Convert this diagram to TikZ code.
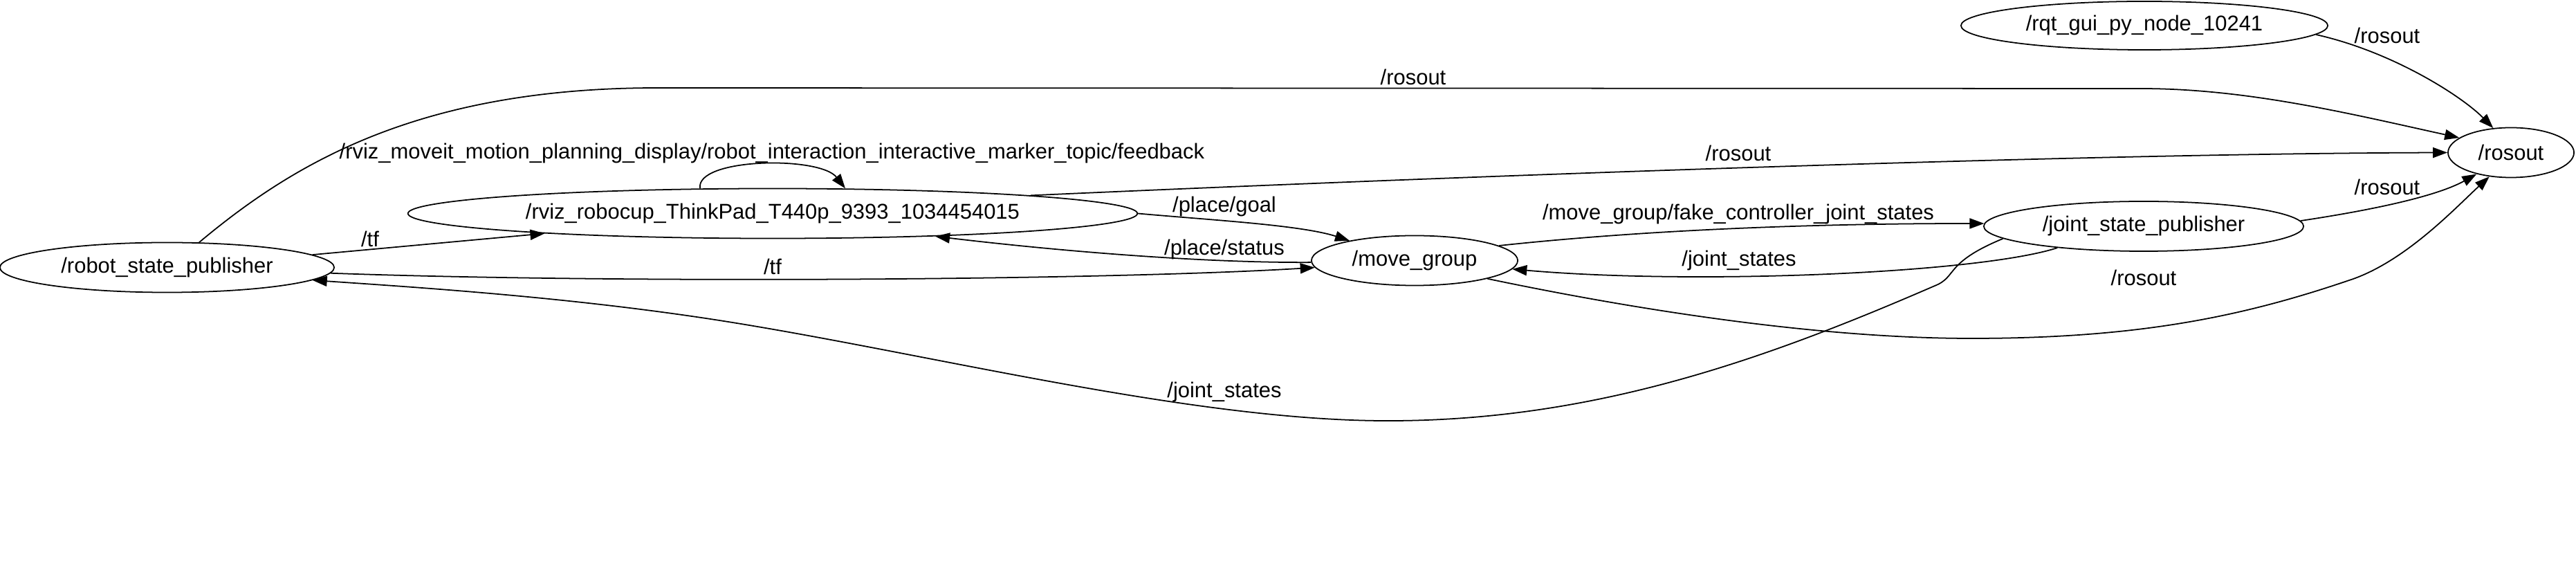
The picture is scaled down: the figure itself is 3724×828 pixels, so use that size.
\documentclass[tikz,border=0pt]{standalone}
\usepackage{fontspec}
\setmainfont{Liberation Sans}
\usetikzlibrary{shapes.geometric,arrows.meta}

\begin{document}
\begin{tikzpicture}
  [x=0.01cm,y=-0.01cm,line width=0.5pt,
   every node/.style={font=\fontsize{8.8}{10}\selectfont},
   rosnode/.style={ellipse,draw,inner sep=0pt,minimum height=0.72cm},
   topic/.style={inner sep=0pt},
   pub/.style={-{Triangle[length=0.21cm,width=0.15cm]}}]

    \useasboundingbox (0,0) rectangle (3724,828);

    % ros nodes
    \node[rosnode,minimum width=4.83cm]  (rsp)    at (241.5,386.5) {/robot\_state\_publisher};
    \node[rosnode,minimum width=10.54cm] (rviz)   at (1117,308.5)  {/rviz\_robocup\_ThinkPad\_T440p\_9393\_1034454015};
    \node[rosnode,minimum width=2.98cm]  (mg)     at (2045,376.5)  {/move\_group};
    \node[rosnode,minimum width=4.62cm]  (jsp)    at (3099,327)    {/joint\_state\_publisher};
    \node[rosnode,minimum width=1.82cm]  (rosout) at (3630,220.5)  {/rosout};
    \node[rosnode,minimum width=5.30cm,minimum height=0.70cm] (rqt) at (3100,37) {/rqt\_gui\_py\_node\_10241};

    % topics
    \draw[pub] (rqt.-3.5) .. controls (3460,75) and (3560,140) .. (rosout.126.2);
    \node[topic] (t1) at (3451,51) {/rosout};

    \draw[pub] (rsp.38.1) .. controls (420,240) and (600,127) .. (950,127) -- (3095,128)
      .. controls (3250,128) and (3400,165) .. (rosout.164.3);
    \node[topic] (t2) at (2043,111) {/rosout};

    \draw[pub] (rviz.4.4) .. controls (2100,255) and (3000,222) .. (rosout.180.9);
    \node[topic] (t3) at (2513,221) {/rosout};

    \draw[pub] (rsp.5.1) -- (rviz.185);
    \node[topic] (t4) at (535,345) {/tf};

    \draw[pub] (rviz.161.6) .. controls (1005,228) and (1185,225) .. (rviz.19);
    \node[topic] (t5) at (1116,222) {/rviz\_moveit\_motion\_planning\_display/robot\_interaction\_interactive\_marker\_topic/feedback};

    \draw[pub] (rviz.0) .. controls (1750,318) and (1880,325) .. (mg.163.6);
    \node[topic] (t6) at (1770,299) {/place/goal};

    \draw[pub] (mg.181.4) .. controls (1750,380) and (1550,365) .. (rviz.-8.3);
    \node[topic] (t7) at (1770,361) {/place/status};

    \draw[pub] (rsp.-2.3) .. controls (900,410) and (1600,405) .. (mg.184.1);
    \node[topic] (t8) at (1117,385) {/tf};

    \draw[pub] (mg.10.6) .. controls (2400,330) and (2650,323) .. (jsp.179);
    \node[topic] (t9) at (2513,310) {/move\_group/fake\_controller\_joint\_states};

    \draw[pub] (jsp.194.4) .. controls (2860,395) and (2450,412) .. (mg.-5.6);
    \node[topic] (t10) at (2514,377) {/joint\_states};

    \draw[pub] (mg.-14.4) .. controls (2400,455) and (2650,489) .. (2850,489)
      .. controls (3100,489) and (3250,455) .. (3402,403)
      .. controls (3480,375) and (3550,300) .. (rosout.228);
    \node[topic] (t11) at (3099,401) {/rosout};

    \draw[pub] (jsp.2.5) .. controls (3420,305) and (3520,285) .. (rosout.212.2);
    \node[topic] (t12) at (3451,270) {/rosout};

    \draw[pub] (jsp.185.2) .. controls (2810,380) and (2830,400) .. (2797,413)
      .. controls (2550,520) and (2300,610) .. (1997,608)
      .. controls (1700,606) and (1300,500) .. (1000,457)
      .. controls (800,428) and (600,415) .. (rsp.-5.6);
    \node[topic] (t13) at (1770,567) {/joint\_states};

\end{tikzpicture}
\end{document}
